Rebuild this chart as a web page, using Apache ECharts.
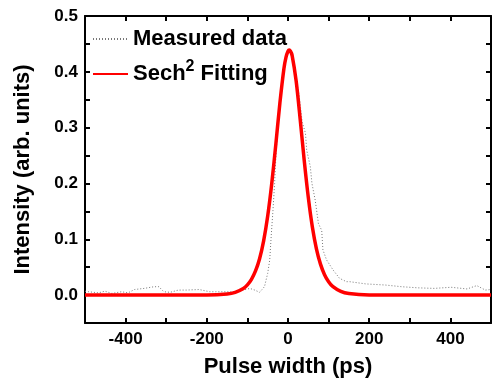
<!DOCTYPE html>
<html>
<head>
<meta charset="utf-8">
<script src="https://cdn.jsdelivr.net/npm/echarts@6/dist/echarts.min.js"></script>
<style>
html,body{margin:0;padding:0;background:#fff;}
#chart{width:494px;height:383px;}
</style>
</head>
<body>
<div id="chart"></div>
<script>
var measuredX = [-500,-491,-467,-451,-434,-410,-394,-378,-354,-330,-318,-306,-290,-270,-250,-219,-193,-178,-161,-138,-115,-94,-82,-70,-58,-50,-45,-41,-37,-33,-29,-22,-14,-6,2,10,18,27,35,43,46,55,59,67,75,79,83,86,95,111,127,144,152,192,240,280,320,360,402,441,465,486,500];
var measuredY = [0.007,0.006,0.004,0.007,0.003,0.006,0.004,0.010,0.012,0.015,0.015,0.006,0.005,0.009,0.009,0.010,0.006,0.006,0.006,0.006,0.008,0.012,0.009,0.005,0.015,0.039,0.063,0.11,0.152,0.2,0.26,0.33,0.39,0.425,0.437,0.425,0.395,0.36,0.31,0.29,0.26,0.23,0.2,0.17,0.128,0.125,0.116,0.081,0.063,0.045,0.03,0.024,0.024,0.020,0.018,0.015,0.013,0.012,0.014,0.011,0.017,0.009,0.010];
var fitX = [-500,-300,-200,-150,-130,-110,-100,-90,-80,-70,-60,-50,-40,-30,-20,-10,-5,0,3,6,10,20,30,40,50,60,70,80,90,100,110,130,150,200,300,500];
var fitY = [0,0,0.0002,0.0021,0.005,0.0119,0.0184,0.0283,0.0432,0.0652,0.0972,0.1417,0.200,0.270,0.344,0.406,0.426,0.437,0.439,0.437,0.430,0.384,0.315,0.241,0.175,0.122,0.083,0.0555,0.0366,0.0239,0.0155,0.0065,0.0027,0.0003,0,0];
var xLabels = [-400,-200,0,200,400];
var yLabels = [0.0,0.1,0.2,0.3,0.4,0.5];
var seriesNames = ['Measured data','Sech2 Fitting'];

function pairs(xs, ys){ return xs.map(function(x,i){ return [x, ys[i]]; }); }

var FONT = '"Liberation Sans", Arial, sans-serif';
var chart = echarts.init(document.getElementById('chart'), null, {renderer:'canvas'});
var axisCommon = {
  axisLine:{show:true, onZero:false, lineStyle:{color:'#000', width:2}},
  axisTick:{show:true, inside:true, length:5, lineStyle:{color:'#000', width:2}},
  splitLine:{show:false}
};
var xBase = {type:'value', min:-500, max:500, interval:100};
var yBase = {type:'value', min:-0.05, max:0.5, interval:0.05};

chart.setOption({
  animation:false,
  backgroundColor:'#fff',
  grid:{left:85, top:16, right:-3, bottom:60, containLabel:false},
  legend:{
    orient:'vertical', left:87, top:19, itemWidth:35, itemHeight:14, itemGap:5,
    data:seriesNames,
    itemStyle:{opacity:0},
    formatter:function(n){ return n==='Sech2 Fitting' ? 'Sech{sup|2} Fitting' : n; },
    textStyle:{fontFamily:FONT, fontWeight:'bold', fontSize:22, lineHeight:30, color:'#000',
      rich:{sup:{fontFamily:FONT, fontWeight:'bold', fontSize:16, lineHeight:16, color:'#000', verticalAlign:'top'}}}
  },
  xAxis:[
    Object.assign({}, xBase, axisCommon, {
      position:'bottom',
      name:'Pulse width (ps)', nameLocation:'middle', nameGap:33,
      nameTextStyle:{fontFamily:FONT, fontWeight:'bold', fontSize:22, color:'#000'},
      axisLabel:{margin:8, fontFamily:FONT, fontWeight:'bold', fontSize:17, color:'#000',
        formatter:function(v){ return xLabels.indexOf(Math.round(v))>=0 ? String(Math.round(v)) : ''; }}
    }),
    Object.assign({}, xBase, axisCommon, {position:'top', axisLabel:{show:false}})
  ],
  yAxis:[
    Object.assign({}, yBase, axisCommon, {
      position:'left',
      name:'Intensity (arb. units)', nameLocation:'middle', nameGap:51,
      nameTextStyle:{fontFamily:FONT, fontWeight:'bold', fontSize:22, color:'#000'},
      axisLabel:{margin:7, fontFamily:FONT, fontWeight:'bold', fontSize:17, color:'#000',
        formatter:function(v){
          var r = Math.round(v*100)/100;
          for (var i=0;i<yLabels.length;i++){ if (Math.abs(yLabels[i]-r)<1e-6) return yLabels[i].toFixed(1); }
          return '';
        }}
    }),
    Object.assign({}, yBase, axisCommon, {position:'right', axisLabel:{show:false}})
  ],
  series:[
    {name:seriesNames[0], type:'line', xAxisIndex:0, yAxisIndex:0, data:pairs(measuredX, measuredY),
     showSymbol:false, symbol:'none', smooth:false,
     lineStyle:{color:'#777', width:1, type:[1,2]}, itemStyle:{color:'#777'}, z:2},
    {name:seriesNames[1], type:'line', xAxisIndex:0, yAxisIndex:0, data:pairs(fitX, fitY),
     showSymbol:false, symbol:'none', smooth:0.3,
     lineStyle:{color:'#ff0000', width:3.5}, itemStyle:{color:'#ff0000'}, z:3}
  ]
});
</script>
</body>
</html>
